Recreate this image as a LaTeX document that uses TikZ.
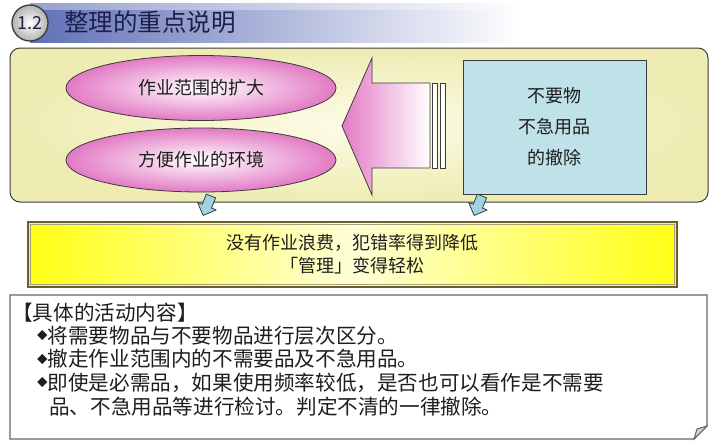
\documentclass[tikz,border=0pt]{standalone}
\usepackage{fontspec}
\setmainfont{Noto Sans CJK SC}
\usetikzlibrary{shapes.geometric}
\definecolor{titleblue}{RGB}{96,112,182}
\definecolor{titletext}{RGB}{28,32,72}
\definecolor{boxyellow}{RGB}{238,236,178}
\definecolor{boxlight}{RGB}{253,252,232}
\definecolor{pinkc}{RGB}{226,122,196}
\definecolor{bluebox}{RGB}{190,226,232}
\definecolor{arrowblue}{RGB}{160,210,226}
\definecolor{brightyellow}{RGB}{255,255,20}
\definecolor{paleyellow}{RGB}{255,255,215}
\definecolor{olive}{RGB}{105,95,40}
\definecolor{linegray}{RGB}{60,60,60}
\definecolor{txt}{RGB}{30,30,30}
\tikzset{
  pinkell/.style={ellipse, draw=linegray, line width=0.8pt, inner color=white, outer color=pinkc,
     minimum width=270, minimum height=65, font=\fontsize{18}{18}\selectfont, text=txt},
  smallarrow/.style={draw=linegray, line width=0.8pt, fill=arrowblue, line join=round},
  bodytext/.style={anchor=west, inner sep=0pt, font=\fontsize{20.6}{23}\selectfont, text=txt},
}
\newcommand{\bul}{\raisebox{3.8pt}{\fontsize{10.5}{10.5}\selectfont ◆}}
\begin{document}
\begin{tikzpicture}[x=1pt,y=-1pt]
\useasboundingbox (0,0) rectangle (720,445);
\fill[white] (0,0) rectangle (720,445);

% title bar
\shade[left color=titleblue, right color=white] (30,3) rectangle (520,42);
\fill[white, opacity=0.35] (30,3) rectangle (520,10);
\node[anchor=west, inner sep=0pt, font=\fontsize{24.5}{24.5}\selectfont, text=titletext] (title) at (64,22) {整理的重点说明};
\node[circle, draw=linegray, line width=1.3pt, inner color=white, outer color=gray!60,
      minimum size=36, inner sep=0pt, font=\fontsize{18}{18}\selectfont, text=titletext] (badge) at (30,23) {1.2};

% top box
\node[draw=linegray, line width=1pt, rounded corners=10, minimum width=698, minimum height=154,
      inner color=boxlight, outer color=boxyellow] (topbox) at (359,125) {};

% ellipses
\node[pinkell] (e1) at (201,88) {作业范围的扩大};
\node[pinkell, minimum height=64] (e2) at (201,160) {方便作业的环境};

% big arrow
\shade[left color=pinkc, right color=white, draw=linegray, line width=0.8pt, line join=miter]
  (342,126) -- (372,58) -- (372,83) -- (430,83) -- (430,168) -- (372,168) -- (372,195) -- cycle;
\draw[fill=white, draw=linegray, line width=0.8pt] (432,83) rectangle (437,168);
\draw[fill=white, draw=linegray, line width=0.8pt] (440,83) rectangle (445,168);

% blue box
\node[draw=linegray, line width=1pt, fill=bluebox, minimum width=183, minimum height=134,
      align=center, font=\fontsize{18}{31}\selectfont, text=txt] (bluebox) at (554.5,127) {不要物\\不急用品\\的撤除};

% small arrows
\coordinate (aL) at (211,196);
\coordinate (aR) at (482,196);
\foreach \c in {aL,aR}{
  \draw[smallarrow, shift={(\c)}, rotate=-22]
    (-5,0) -- (5,0) -- (5,11) -- (10,11) -- (0,21) -- (-10,11) -- (-5,11) -- cycle;
}

% yellow bar
\node[draw=olive, line width=2pt, minimum width=649, minimum height=65,
      left color=brightyellow, right color=brightyellow, middle color=paleyellow,
      align=center, font=\fontsize{18}{23}\selectfont, text=txt] (result) at (352.5,254.5)
      {没有作业浪费，犯错率得到降低\\「管理」变得轻松};
\draw[olive!60, line width=0.5pt] (30.5,224.5) rectangle (674.5,284.5);

% bottom box with folded corner
\draw[draw=gray!80!black, line width=1.3pt, fill=white]
  (10,295) -- (707,295) -- (707,426) -- (694,439) -- (10,439) -- cycle;
\draw[draw=gray!80!black, line width=1pt, fill=gray!35] (707,426) -- (694,439) -- (697,429) -- cycle;

\node[bodytext] (h) at (12,313) {【具体的活动内容】};
\node[bodytext] (l1) at (37,336) {\bul 将需要物品与不要物品进行层次区分。};
\node[bodytext] (l2) at (37,359) {\bul 撤走作业范围内的不需要品及不急用品。};
\node[bodytext] (l3) at (37,383) {\bul 即使是必需品，如果使用频率较低，是否也可以看作是不需要};
\node[bodytext] (l4) at (49,407) {品、不急用品等进行检讨。判定不清的一律撤除。};
\end{tikzpicture}
\end{document}
